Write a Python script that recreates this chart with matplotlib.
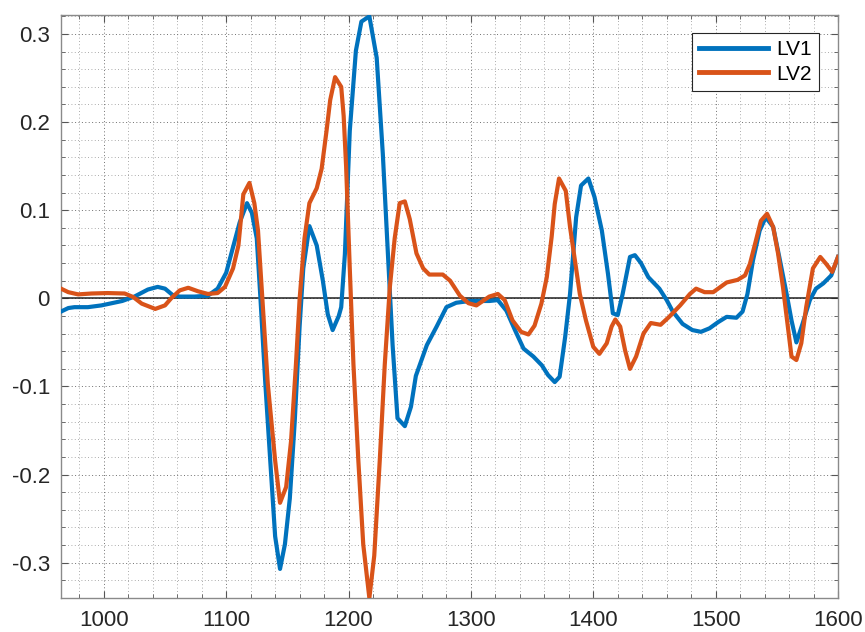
import matplotlib
matplotlib.use("Agg")
import matplotlib.pyplot as plt
from matplotlib.ticker import MultipleLocator, FuncFormatter

plt.rcParams['font.family'] = ['Liberation Sans', 'DejaVu Sans']
plt.rcParams['axes.unicode_minus'] = False

# Loading vectors over wavenumber
lv1_x = [965, 971, 976, 987, 998, 1015, 1025, 1036, 1044, 1050, 1056, 1062, 1074, 1085,
         1093, 1100, 1105, 1111, 1117, 1121, 1125, 1128, 1132, 1136, 1140, 1144, 1148,
         1152, 1156, 1160, 1163, 1168, 1174, 1179, 1183, 1187, 1192, 1194, 1197, 1201,
         1206, 1210.5, 1217, 1223, 1228, 1232, 1236, 1240, 1246, 1251, 1255, 1264, 1272,
         1280, 1288, 1299, 1315, 1322, 1329, 1336, 1343, 1351, 1358, 1363, 1368.5, 1372.5,
         1377, 1381, 1386, 1390, 1396, 1401, 1407, 1412, 1416, 1420, 1424, 1430, 1434,
         1439, 1445, 1454, 1460, 1465, 1473, 1481, 1488, 1495, 1502, 1509, 1517, 1522,
         1526, 1530.5, 1536, 1541, 1547, 1552, 1558, 1562, 1566, 1571, 1577, 1582, 1588,
         1594.5, 1600]
lv1_y = [-0.015, -0.011, -0.010, -0.010, -0.008, -0.003, 0.002, 0.010, 0.013, 0.011,
         0.004, 0.002, 0.002, 0.003, 0.011, 0.029, 0.055, 0.086, 0.108, 0.097, 0.068,
         0.000, -0.097, -0.184, -0.270, -0.307, -0.279, -0.227, -0.140, -0.032, 0.034,
         0.082, 0.060, 0.020, -0.018, -0.036, -0.020, -0.010, 0.050, 0.190, 0.281, 0.314,
         0.320, 0.273, 0.164, 0.055, -0.053, -0.136, -0.145, -0.123, -0.088, -0.053,
         -0.032, -0.010, -0.005, -0.003, -0.003, -0.002, -0.014, -0.036, -0.057, -0.066,
         -0.076, -0.087, -0.095, -0.089, -0.044, 0.005, 0.092, 0.128, 0.136, 0.115, 0.077,
         0.028, -0.017, -0.019, 0.005, 0.047, 0.049, 0.040, 0.024, 0.011, -0.002, -0.015,
         -0.029, -0.036, -0.038, -0.034, -0.027, -0.021, -0.022, -0.015, 0.005, 0.043,
         0.077, 0.092, 0.081, 0.047, 0.005, -0.025, -0.050, -0.029, -0.002, 0.011, 0.017,
         0.026, 0.047]

lv2_x = [965, 971, 979, 990, 1003, 1017, 1024, 1031, 1042, 1050, 1055, 1062, 1069, 1077,
         1085, 1093, 1099, 1105.6, 1110, 1114, 1119, 1123, 1126, 1130, 1134, 1140, 1144,
         1149, 1153, 1157, 1160, 1164, 1168, 1174, 1178, 1182, 1185, 1189, 1194, 1196,
         1198, 1201, 1204, 1208, 1212, 1217, 1221, 1225.5, 1229.6, 1233.7, 1237.7, 1241.8,
         1246, 1250, 1255.5, 1261, 1266, 1277, 1283, 1291, 1298, 1304.5, 1315, 1322,
         1327.6, 1334, 1341, 1347, 1352, 1357.6, 1362, 1366, 1368.5, 1372, 1377.5, 1381,
         1385, 1389, 1394, 1400, 1405, 1411, 1415, 1418, 1422, 1426, 1430, 1435, 1441,
         1447, 1455, 1462, 1471, 1479, 1484, 1491, 1498, 1509, 1518, 1524, 1528, 1533,
         1537, 1542, 1547, 1551, 1555, 1559, 1562, 1566, 1570, 1574, 1579.5, 1585.5,
         1590.4, 1595.3, 1600]
lv2_y = [0.011, 0.007, 0.0045, 0.0055, 0.006, 0.0055, 0.0015, -0.006, -0.012, -0.008,
         0.000, 0.009, 0.012, 0.008, 0.005, 0.006, 0.013, 0.034, 0.060, 0.118, 0.131,
         0.108, 0.077, -0.010, -0.097, -0.184, -0.232, -0.214, -0.162, -0.075, -0.001,
         0.068, 0.108, 0.125, 0.147, 0.190, 0.225, 0.251, 0.240, 0.207, 0.150, 0.034,
         -0.075, -0.184, -0.279, -0.340, -0.292, -0.184, -0.075, 0.012, 0.068, 0.108,
         0.110, 0.090, 0.051, 0.034, 0.027, 0.027, 0.020, 0.003, -0.0055, -0.008, 0.002,
         0.005, -0.002, -0.025, -0.038, -0.041, -0.031, -0.006, 0.024, 0.070, 0.107, 0.136,
         0.122, 0.081, 0.043, 0.005, -0.025, -0.055, -0.063, -0.051, -0.032, -0.024,
         -0.032, -0.059, -0.080, -0.066, -0.040, -0.028, -0.030, -0.021, -0.008, 0.005,
         0.011, 0.007, 0.007, 0.018, 0.021, 0.026, 0.039, 0.066, 0.088, 0.096, 0.081,
         0.051, 0.013, -0.032, -0.066, -0.070, -0.051, -0.010, 0.034, 0.047, 0.039, 0.030,
         0.047]

series_names = ['LV1', 'LV2']
series_colors = ['#0072BD', '#D95319']

x_ticks = [1000, 1100, 1200, 1300, 1400, 1500, 1600]
y_ticks = [-0.3, -0.2, -0.1, 0, 0.1, 0.2, 0.3]

fig = plt.figure(figsize=(8.65, 6.32), dpi=100)
ax = fig.add_axes([61 / 865, 34 / 632, 777 / 865, 583 / 632])

ax.plot(lv1_x, lv1_y, color=series_colors[0], lw=3.0, label=series_names[0],
        solid_joinstyle='round', zorder=3)
ax.plot(lv2_x, lv2_y, color=series_colors[1], lw=3.0, label=series_names[1],
        solid_joinstyle='round', zorder=3)
ax.axhline(0, color='#202020', lw=1.1, zorder=2)

ax.set_xlim(965, 1600)
ax.set_ylim(-0.34, 0.3215)
ax.set_xticks(x_ticks)
ax.set_yticks(y_ticks)
ax.xaxis.set_minor_locator(MultipleLocator(20))
ax.yaxis.set_minor_locator(MultipleLocator(0.02))
ax.yaxis.set_major_formatter(FuncFormatter(lambda v, p: '%g' % round(v, 3)))

ax.grid(True, which='major', linestyle=(0, (1, 2.5)), color='#555555', lw=0.7, alpha=0.85)
ax.grid(True, which='minor', linestyle=(0, (1, 3)), color='#555555', lw=0.6, alpha=0.65)
ax.set_axisbelow(True)

for s in ax.spines.values():
    s.set_color('#8a8a8a')
    s.set_linewidth(1.0)

ax.tick_params(which='both', direction='in', top=True, right=True,
               color='#555555', labelcolor='#262626')
ax.tick_params(which='major', length=5, width=0.8, labelsize=16)
ax.tick_params(which='minor', length=3, width=0.6)
ax.tick_params(axis='x', which='major', pad=9)
ax.tick_params(axis='y', which='major', pad=8)

leg = ax.legend(loc='upper right', bbox_to_anchor=(0.9755, 0.969), borderaxespad=0,
                fontsize=15, handlelength=3.3, handletextpad=0.4, labelspacing=0.25,
                borderpad=0.35, fancybox=False, framealpha=1, edgecolor='#262626')
leg.get_frame().set_linewidth(0.8)
for line in leg.get_lines():
    line.set_linewidth(3.5)

fig.savefig('out.png', dpi=100)
